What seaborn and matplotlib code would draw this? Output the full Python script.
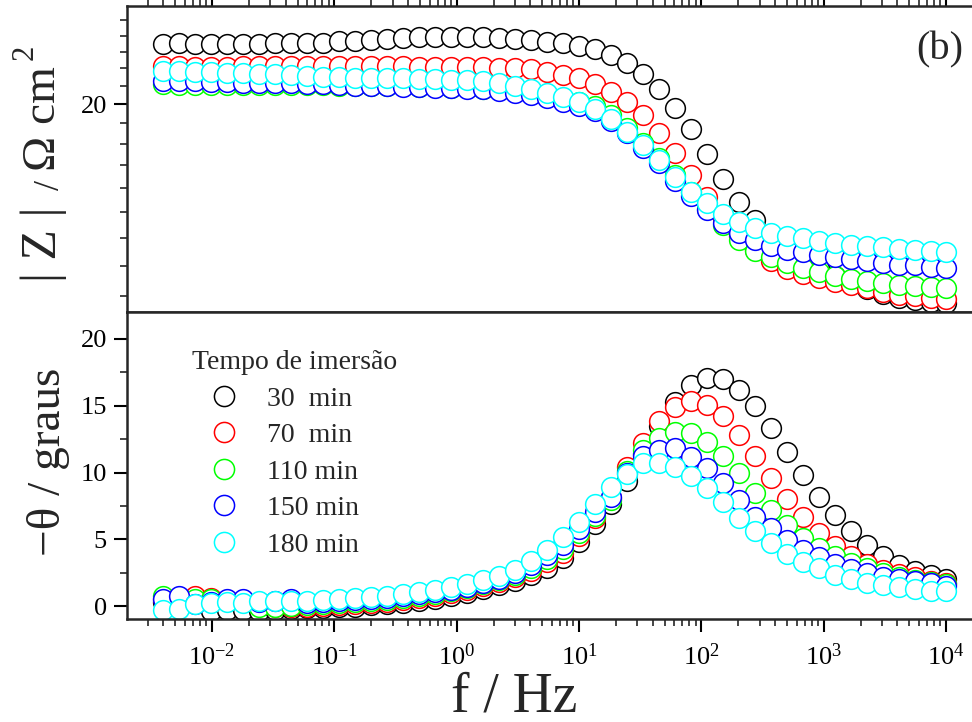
import numpy as np
import pandas as pd
import matplotlib
matplotlib.use("Agg")
import matplotlib.pyplot as plt
import seaborn as sns
from matplotlib.ticker import (FixedLocator, NullFormatter, LogLocator,
                               MultipleLocator, FuncFormatter)
from matplotlib.lines import Line2D

# ---------------- data ----------------
freq_hz = [0.0040, 0.00541, 0.00731, 0.00989, 0.01334, 0.01803, 0.02438, 0.03296,
           0.04446, 0.06012, 0.08128, 0.1099, 0.1483, 0.2004, 0.2710, 0.3664,
           0.4955, 0.6683, 0.9036, 1.222, 1.652, 2.228, 3.013, 4.074, 5.508,
           7.430, 10.05, 13.58, 18.37, 24.83, 33.50, 45.29, 61.24, 82.79, 111.7,
           151.0, 204.2, 276.1, 372.4, 503.5, 680.8, 920.4, 1242, 1679, 2270,
           3069, 4140, 5598, 7568, 10000]

x_major_ticks = [1e-2, 1e-1, 1e0, 1e1, 1e2, 1e3, 1e4]

series_labels = ["30  min", "70  min", "110 min", "150 min", "180 min"]
series_colors = ["#000000", "#FF0000", "#00FF00", "#0000FF", "#00FFFF"]

# |Z| / Ohm cm2
z_30 = [23.50, 23.53, 23.50, 23.50, 23.50, 23.47, 23.50, 23.53, 23.53, 23.53,
        23.56, 23.63, 23.66, 23.72, 23.79, 23.85, 23.88, 23.91, 23.91, 23.91,
        23.88, 23.85, 23.79, 23.72, 23.61, 23.51, 23.35, 23.13, 22.79, 22.29,
        21.64, 20.80, 19.81, 18.71, 17.50, 16.37, 15.42, 14.68, 14.10, 13.62,
        13.23, 12.92, 12.64, 12.41, 12.21, 12.05, 11.94, 11.86, 11.81, 11.78]
z_70 = [22.12, 22.13, 22.10, 22.10, 22.07, 22.16, 22.13, 22.13, 22.13, 22.13,
        22.13, 22.13, 22.13, 22.13, 22.13, 22.13, 22.10, 22.10, 22.10, 22.10,
        22.07, 22.04, 22.00, 21.94, 21.80, 21.61, 21.42, 21.08, 20.67, 20.12,
        19.40, 18.50, 17.54, 16.55, 15.62, 14.76, 14.07, 13.55, 13.16, 12.90,
        12.73, 12.59, 12.46, 12.34, 12.25, 12.13, 12.03, 11.98, 11.94, 11.91]
z_110 = [21.10, 21.04, 21.04, 21.04, 21.04, 21.04, 21.04, 21.04, 21.04, 21.04,
         21.04, 21.01, 21.01, 20.98, 20.98, 20.96, 20.93, 20.93, 20.90, 20.87,
         20.82, 20.76, 20.68, 20.57, 20.43, 20.27, 20.11, 19.89, 19.40, 18.76,
         18.05, 17.32, 16.55, 15.82, 15.13, 14.49, 13.92, 13.53, 13.30, 13.09,
         12.92, 12.78, 12.66, 12.56, 12.48, 12.41, 12.36, 12.31, 12.28, 12.25]
z_150 = [21.27, 21.24, 21.27, 21.21, 21.21, 21.18, 21.18, 21.15, 21.15, 21.10,
         21.07, 21.04, 21.01, 20.98, 20.96, 20.93, 20.93, 20.90, 20.87, 20.84,
         20.79, 20.71, 20.60, 20.46, 20.30, 20.13, 19.89, 19.63, 19.11, 18.53,
         17.80, 17.10, 16.29, 15.65, 15.06, 14.58, 14.19, 13.92, 13.71, 13.57,
         13.49, 13.39, 13.30, 13.22, 13.16, 13.10, 13.04, 13.01, 12.96, 12.92]
z_180 = [21.84, 21.84, 21.81, 21.78, 21.75, 21.72, 21.69, 21.67, 21.61, 21.55,
         21.52, 21.49, 21.46, 21.44, 21.41, 21.41, 21.38, 21.38, 21.35, 21.32,
         21.29, 21.18, 21.01, 20.82, 20.60, 20.40, 20.12, 19.72, 19.20, 18.58,
         17.93, 17.22, 16.48, 15.83, 15.35, 14.92, 14.61, 14.37, 14.18, 14.08,
         13.98, 13.89, 13.82, 13.75, 13.70, 13.65, 13.59, 13.56, 13.52, 13.50]

# -theta / graus
th_30 = [0.30, 0.35, 0.20, -0.40, -0.30, -0.30, -0.35, -0.30, -0.20, -0.15,
         -0.12, -0.10, -0.05, 0.05, 0.15, 0.25, 0.37, 0.55, 0.75, 1.00,
         1.25, 1.55, 1.87, 2.32, 2.87, 3.62, 4.82, 6.17, 7.66, 9.36,
         11.40, 13.50, 15.30, 16.55, 17.10, 17.00, 16.20, 14.95, 13.30, 11.55,
         9.80, 8.20, 6.80, 5.60, 4.60, 3.75, 3.10, 2.60, 2.30, 2.00]
th_70 = [0.55, 0.60, 0.75, 0.60, 0.40, 0.35, 0.00, -0.10, -0.10, -0.05,
         0.02, 0.07, 0.13, 0.20, 0.32, 0.45, 0.62, 0.77, 0.95, 1.20,
         1.50, 1.80, 2.15, 2.65, 3.30, 4.00, 5.25, 6.60, 8.10, 10.40,
         12.20, 13.85, 14.90, 15.38, 15.06, 14.20, 12.80, 11.25, 9.60, 8.00,
         6.65, 5.50, 4.50, 3.75, 3.15, 2.70, 2.40, 2.15, 1.90, 1.70]
th_110 = [0.75, 0.55, 0.55, 0.50, 0.45, 0.30, -0.05, -0.05, 0.00, 0.10,
          0.17, 0.22, 0.28, 0.35, 0.47, 0.60, 0.77, 0.92, 1.10, 1.35,
          1.65, 1.95, 2.30, 2.85, 3.55, 4.30, 5.50, 6.75, 7.95, 10.10,
          11.70, 12.56, 13.00, 12.93, 12.30, 11.20, 9.94, 8.50, 7.19, 6.07,
          5.13, 4.38, 3.75, 3.26, 2.82, 2.45, 2.20, 1.98, 1.82, 1.65]
th_150 = [0.50, 0.75, 0.15, 0.30, 0.50, 0.55, 0.30, 0.40, 0.50, 0.25,
          0.32, 0.37, 0.43, 0.50, 0.60, 0.72, 0.88, 1.02, 1.20, 1.45,
          1.75, 2.05, 2.45, 3.05, 3.80, 4.60, 5.75, 7.06, 8.20, 10.00,
          11.20, 11.70, 11.80, 11.18, 10.31, 9.19, 7.94, 6.69, 5.82, 4.94,
          4.19, 3.65, 3.15, 2.80, 2.45, 2.20, 2.00, 1.85, 1.70, 1.50]
th_180 = [-0.30, -0.20, 0.15, 0.25, 0.30, 0.25, 0.35, 0.35, 0.40, 0.40,
          0.47, 0.52, 0.58, 0.65, 0.77, 0.90, 1.07, 1.22, 1.40, 1.65,
          1.97, 2.27, 2.72, 3.39, 4.20, 5.20, 6.30, 7.64, 8.90, 9.89,
          10.69, 10.69, 10.43, 9.76, 8.82, 7.81, 6.57, 5.60, 4.75, 3.90,
          3.30, 2.82, 2.35, 2.00, 1.70, 1.55, 1.40, 1.27, 1.15, 1.10]

z_series = [z_30, z_70, z_110, z_150, z_180]
th_series = [th_30, th_70, th_110, th_150, th_180]

frames = []
for lab, zv, tv in zip(series_labels, z_series, th_series):
    frames.append(pd.DataFrame({"f": freq_hz, "Z": zv, "theta": tv, "tempo": lab}))
df = pd.concat(frames, ignore_index=True)

# ---------------- style ----------------
sns.set_style("ticks")
plt.rcParams["font.family"] = ["Liberation Serif", "DejaVu Serif"]
plt.rcParams["mathtext.fontset"] = "custom"
plt.rcParams["mathtext.rm"] = "Liberation Serif"
plt.rcParams["mathtext.it"] = "Liberation Serif:italic"
plt.rcParams["axes.unicode_minus"] = True

W, H = 972, 722
fig = plt.figure(figsize=(W / 100, H / 100), dpi=100)
fig.patch.set_facecolor("white")


def px_rect(l, t, r, b):
    return [l / W, 1 - b / H, (r - l) / W, (b - t) / H]


ax_top = fig.add_axes(px_rect(127, 6, 975, 312))
ax_bot = fig.add_axes(px_rect(127, 312, 975, 619), sharex=ax_top)

for ax in (ax_top, ax_bot):
    ax.set_xscale("log")
ax_top.set_yscale("log")

mk = dict(marker="o", linestyle="", markersize=14.2, markerfacecolor="white",
          markeredgewidth=1.1, estimator=None, sort=False, legend=False)
for lab, col in zip(series_labels, series_colors):
    sub = df[df["tempo"] == lab]
    sns.lineplot(data=sub, x="f", y="Z", ax=ax_top, color=col,
                 markeredgecolor=col, **mk)
    sns.lineplot(data=sub, x="f", y="theta", ax=ax_bot, color=col,
                 markeredgecolor=col, **mk)

ax_top.set_xlim(10 ** -2.695, 10 ** 4.237)
ax_top.set_ylim(11.49, 25.97)
ax_bot.set_ylim(-0.97, 22.02)

for ax in (ax_top, ax_bot):
    ax.set_xlabel("")
    ax.set_ylabel("")
    for sp in ax.spines.values():
        sp.set_linewidth(1.8)
        sp.set_visible(True)
    ax.tick_params(which="major", length=9.5, width=1.5, direction="out",
                   labelsize=19, pad=5, colors="black")
    ax.tick_params(which="minor", length=5, width=1.2, direction="out")

ax_bot.xaxis.set_major_locator(FixedLocator(x_major_ticks))
ax_bot.xaxis.set_minor_locator(LogLocator(base=10, subs=np.arange(2, 10), numticks=20))
ax_bot.xaxis.set_minor_formatter(NullFormatter())

ax_top.tick_params(axis="x", which="both", bottom=True, top=True,
                   labelbottom=False, labeltop=False)
ax_bot.tick_params(axis="x", which="both", bottom=True, top=False)
ax_bot.tick_params(axis="x", which="major", pad=8)

ax_top.yaxis.set_major_locator(FixedLocator([20]))
ax_top.yaxis.set_major_formatter(FuncFormatter(lambda v, p: "20"))
ax_top.yaxis.set_minor_locator(FixedLocator([12, 13, 14, 15, 16, 17, 18, 19,
                                             21, 22, 23, 24, 25, 26]))
ax_top.yaxis.set_minor_formatter(NullFormatter())

ax_bot.yaxis.set_major_locator(MultipleLocator(5))
ax_bot.yaxis.set_minor_locator(MultipleLocator(2.5))

# ---------------- legend ----------------
handles = [Line2D([], [], marker="o", linestyle="", markersize=14.5,
                  markerfacecolor="white", markeredgecolor=c, markeredgewidth=1.1)
           for c in series_colors]
leg = ax_bot.legend(handles, series_labels, title="Tempo de imersão",
                    loc="upper left", bbox_to_anchor=(192 / W, 1 - 350 / H),
                    bbox_transform=fig.transFigure, frameon=False,
                    fontsize=20, title_fontsize=20, handlelength=2.3,
                    handletextpad=0.4, labelspacing=0.4, borderpad=0,
                    borderaxespad=0, alignment="left")

# ---------------- labels ----------------
fig.text(48 / W, 1 - 462 / H, "\u2212\u03b8 / graus", rotation=90,
         ha="center", va="center", fontsize=34)
fig.text(514 / W, 1 - 711 / H, "f / Hz", ha="center", va="baseline", fontsize=40)

fig.text(44 / W, 1 - 244 / H, "| Z |", rotation=90, ha="center", va="center", fontsize=36)
fig.text(50 / W, 1 - 185 / H, "/", rotation=90, ha="center", va="center", fontsize=26)
fig.text(44 / W, 1 - 119 / H, "\u03a9 cm", rotation=90, ha="center", va="center", fontsize=34)
fig.text(25 / W, 1 - 52 / H, "2", rotation=90, ha="center", va="center", fontsize=22)

fig.text(940 / W, 1 - 50 / H, "(b)", ha="center", va="center", fontsize=29)

fig.savefig("out.png", dpi=100, facecolor="white")
